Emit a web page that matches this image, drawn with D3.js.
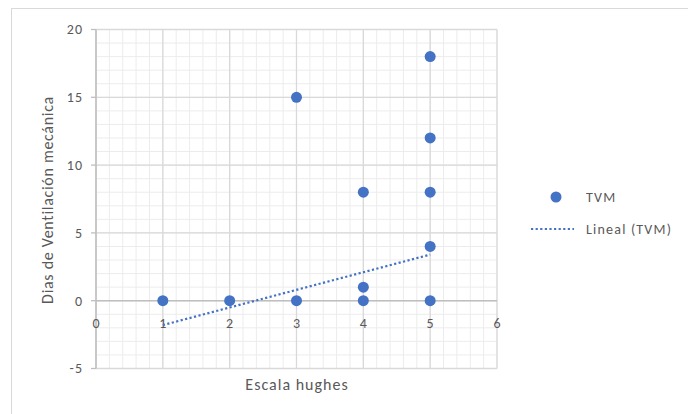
<!DOCTYPE html>
<html>
<head>
<meta charset="utf-8">
<script src="https://cdn.jsdelivr.net/npm/d3@7"></script>
<style>
  html, body { margin: 0; padding: 0; background: #fff; }
  svg { display: block; font-family: Carlito, Calibri, Lato, sans-serif; }
</style>
</head>
<body>
<svg id="chart" width="688" height="414"></svg>
<script>
// Datos (Escala hughes vs días de VM)
const hughes = [1, 2, 3, 3, 4, 4, 4, 5, 5, 5, 5, 5];
const diasVM = [0, 0, 15, 0, 8, 1, 0, 18, 12, 8, 4, 0];

// Línea de tendencia lineal (extremos)
const trendX = [1, 5];
const trendY = [-1.8, 3.4];

const xTicks = [0, 1, 2, 3, 4, 5, 6];
const yTicks = [-5, 0, 5, 10, 15, 20];

const serieNombre = 'TVM';
const tendenciaNombre = 'Lineal (TVM)';

const colorPunto = '#4472C4';
const colorTexto = '#595959';

const svg = d3.select('#chart');

// Borde exterior del gráfico
svg.append('rect')
  .attr('x', 11.5).attr('y', 8.5)
  .attr('width', 700).attr('height', 420)
  .attr('fill', 'none')
  .attr('stroke', '#d9d9d9');

const x = d3.scaleLinear().domain([0, 6]).range([96, 497]);
const y = d3.scaleLinear().domain([-5, 20]).range([368.5, 29.5]);

// Rejilla secundaria
const grid = svg.append('g');
grid.selectAll('line.mx')
  .data(d3.range(0, 6.01, 0.2))
  .join('line')
  .attr('x1', d => x(d)).attr('x2', d => x(d))
  .attr('y1', y(-5)).attr('y2', y(20))
  .attr('stroke', '#ececec').attr('stroke-width', 1);
grid.selectAll('line.my')
  .data(d3.range(-5, 20.01, 1))
  .join('line')
  .attr('x1', x(0)).attr('x2', x(6))
  .attr('y1', d => y(d)).attr('y2', d => y(d))
  .attr('stroke', '#ececec').attr('stroke-width', 1);

// Rejilla principal
grid.selectAll('line.Mx')
  .data(xTicks)
  .join('line')
  .attr('x1', d => x(d)).attr('x2', d => x(d))
  .attr('y1', y(-5)).attr('y2', y(20))
  .attr('stroke', '#d9d9d9').attr('stroke-width', 1.3);
grid.selectAll('line.My')
  .data(yTicks)
  .join('line')
  .attr('x1', x(0)).attr('x2', x(6))
  .attr('y1', d => y(d)).attr('y2', d => y(d))
  .attr('stroke', '#d9d9d9').attr('stroke-width', 1.3);

// Ejes (cruzan en 0)
svg.append('line')
  .attr('x1', x(0)).attr('x2', x(6))
  .attr('y1', y(0)).attr('y2', y(0))
  .attr('stroke', '#bfbfbf').attr('stroke-width', 1.5);
svg.append('line')
  .attr('x1', x(0)).attr('x2', x(0))
  .attr('y1', y(-5)).attr('y2', y(20))
  .attr('stroke', '#bfbfbf').attr('stroke-width', 1.5);

// Marcas de graduación
svg.append('g')
  .selectAll('line')
  .data(yTicks)
  .join('line')
  .attr('x1', x(0) - 5).attr('x2', x(0))
  .attr('y1', d => y(d)).attr('y2', d => y(d))
  .attr('stroke', '#bfbfbf').attr('stroke-width', 1.3);

// Etiquetas de ejes
svg.append('g')
  .selectAll('text')
  .data(yTicks)
  .join('text')
  .attr('x', 83)
  .attr('y', d => y(d))
  .attr('dy', '0.35em')
  .attr('text-anchor', 'end')
  .attr('font-size', 14)
  .attr('letter-spacing', 1)
  .attr('fill', colorTexto)
  .text(d => d);

svg.append('g')
  .selectAll('text')
  .data(xTicks)
  .join('text')
  .attr('x', d => x(d))
  .attr('y', y(0) + 27)
  .attr('text-anchor', 'middle')
  .attr('font-size', 14)
  .attr('fill', colorTexto)
  .text(d => d);

// Títulos de ejes
svg.append('text')
  .attr('x', 297)
  .attr('y', 390)
  .attr('text-anchor', 'middle')
  .attr('font-size', 16)
  .attr('letter-spacing', 1)
  .attr('fill', colorTexto)
  .text('Escala hughes');

svg.append('text')
  .attr('transform', 'translate(53,200) rotate(-90)')
  .attr('text-anchor', 'middle')
  .attr('font-size', 16)
  .attr('letter-spacing', 0.7)
  .attr('fill', colorTexto)
  .text('Dias de Ventilación mecánica');

// Puntos
svg.append('g')
  .selectAll('circle')
  .data(hughes.map((h, i) => ({ x: h, y: diasVM[i] })))
  .join('circle')
  .attr('cx', d => x(d.x))
  .attr('cy', d => y(d.y))
  .attr('r', 5.5)
  .attr('fill', colorPunto);

// Línea de tendencia
const trendLine = d3.line().x(d => x(d[0])).y(d => y(d[1]));
svg.append('path')
  .datum(trendX.map((v, i) => [v, trendY[i]]))
  .attr('d', trendLine)
  .attr('fill', 'none')
  .attr('stroke', colorPunto)
  .attr('stroke-width', 2.2)
  .attr('stroke-dasharray', '2.2,2.4');

// Leyenda
const legend = svg.append('g');
legend.append('circle')
  .attr('cx', 556).attr('cy', 197).attr('r', 5.5)
  .attr('fill', colorPunto);
legend.append('text')
  .attr('x', 586).attr('y', 197).attr('dy', '0.35em')
  .attr('font-size', 14).attr('letter-spacing', 1.2)
  .attr('fill', colorTexto)
  .text(serieNombre);
legend.append('line')
  .attr('x1', 531).attr('x2', 574)
  .attr('y1', 229).attr('y2', 229)
  .attr('stroke', colorPunto)
  .attr('stroke-width', 2.2)
  .attr('stroke-dasharray', '2.2,2.4');
legend.append('text')
  .attr('x', 586).attr('y', 229).attr('dy', '0.35em')
  .attr('font-size', 14).attr('letter-spacing', 1.2)
  .attr('fill', colorTexto)
  .text(tendenciaNombre);
</script>
</body>
</html>
